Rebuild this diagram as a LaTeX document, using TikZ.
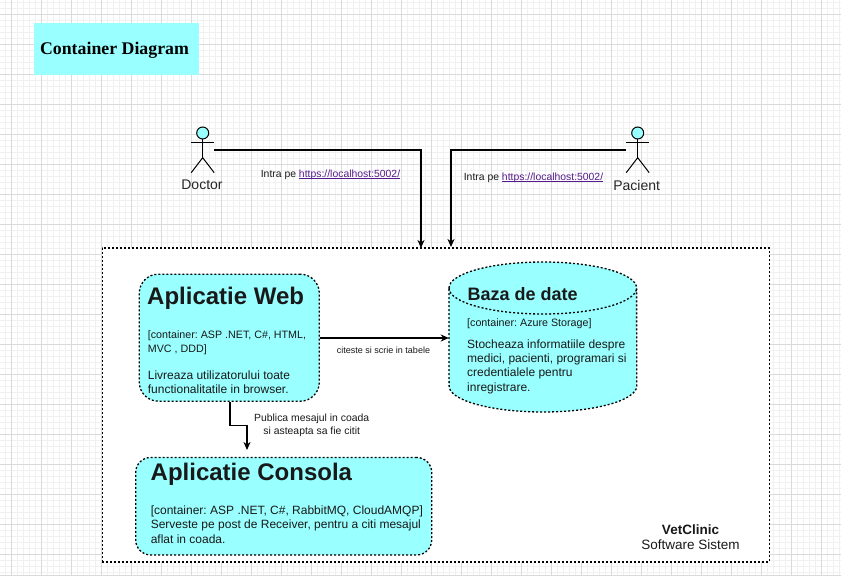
\documentclass[tikz,border=0pt]{standalone}
\usepackage{fontspec}
\setmainfont{Liberation Sans}
\newfontfamily\serifbold{Liberation Serif}
\usepackage{xcolor}
\usetikzlibrary{positioning,shapes,arrows.meta,calc}
\definecolor{contcyan}{HTML}{99FFFF}
\definecolor{gridmajor}{HTML}{DADADA}
\definecolor{gridminor}{HTML}{F1F1F1}
\definecolor{linkpurple}{HTML}{551A8B}
\newcommand{\fsize}[1]{\frenchspacing\fontsize{#1}{#1}\selectfont}
\newlength{\linklen}
\newcommand{\locallink}{\settowidth{\linklen}{https://localhost:5002/}\textcolor{linkpurple}{\rlap{https://localhost:5002/}\rule[-1.6pt]{\linklen}{0.7pt}}}
\tikzset{
  dots/.style={line width=1.3pt, dash pattern=on 2pt off 2pt},
  contbox/.style={draw=black, fill=contcyan, dots},
  conn/.style={draw=black, line width=1.3pt, -{Stealth[length=8pt,width=7pt,inset=2.5pt]}},
  figure/.style={draw=black, line width=1pt},
  txt/.style={anchor=west, inner sep=0pt, align=left, text=black!90},
  title/.style={txt, font=\bfseries\fsize{24}},
  lbl/.style={inner sep=0pt, align=center, font=\fsize{10.4}, text=black!90},
}
\begin{document}
\begin{tikzpicture}[x=1pt,y=-1pt]
  \useasboundingbox (0,0) rectangle (841,577);
  % Grid
  \fill[white] (0,0) rectangle (841,577);
  \foreach \x in {-0.33,5.67,...,841} \draw[gridminor,line width=0.8pt] (\x,0) -- (\x,575);
  \foreach \y in {2.33,8.33,...,575} \draw[gridminor,line width=0.8pt] (0,\y) -- (841,\y);
  \foreach \x in {11.67,41.67,...,841} \draw[gridmajor,line width=0.8pt] (\x,0) -- (\x,575);
  \foreach \y in {14.33,44.33,...,575} \draw[gridmajor,line width=0.8pt] (0,\y) -- (841,\y);
  \draw[gridmajor,line width=1pt] (0,575.5) -- (841,575.5);

  % Title
  \node[fill=contcyan, minimum width=165pt, minimum height=52pt, inner sep=0pt] (titlebox) at (116.5,49) {};
  \node[inner sep=0pt, font=\serifbold\bfseries\fsize{17.8}] (titletext) at (114.5,50) {Container Diagram};

  % System boundary
  \node[draw=black, fill=white, dots, minimum width=667pt, minimum height=314pt, inner sep=0pt] (sistem) at (435.7,405) {};
  \node[inner sep=0pt, align=center, font=\fsize{13.5}, text=black!90] (sistemlabel) at (690.5,537) {\textbf{VetClinic}\\[1pt]Software Sistem};

  % Actors
  \node[minimum width=23pt, minimum height=46pt, inner sep=0pt] (doctor) at (202.7,150) {};
  \node[minimum width=23pt, minimum height=46pt, inner sep=0pt] (pacient) at (637.7,150) {};
  \foreach \actor in {doctor,pacient} {
    \node[circle, figure, fill=contcyan, minimum size=12pt, inner sep=0pt] (\actor head) at ($(\actor)+(0,-17)$) {};
    \draw[figure] (\actor head.south) -- ($(\actor)+(0,7.7)$);
    \draw[figure] ($(\actor)+(-11.5,-7.3)$) -- ($(\actor)+(11.5,-7.3)$);
    \draw[figure] ($(\actor)+(-11.5,22.7)$) -- ($(\actor)+(0,7.7)$) -- ($(\actor)+(11.5,22.7)$);
  }
  \node[inner sep=0pt, font=\fsize{14}, text=black!85] (doctorlabel) at (202,185) {Doctor};
  \node[inner sep=0pt, font=\fsize{14}, text=black!85] (pacientlabel) at (636.7,185) {Pacient};

  % Containers
  \node[contbox, rounded corners=19pt, minimum width=180pt, minimum height=127pt, inner sep=0pt] (web) at (229.3,337.7) {};
  \node[contbox, rounded corners=15pt, minimum width=296pt, minimum height=97.5pt, inner sep=0pt] (consola) at (283.7,506.2) {};
  \node[minimum width=187.7pt, minimum height=150pt, inner sep=0pt] (baza) at (542.8,337) {};
  \draw[contbox] (449,288) arc[start angle=180, end angle=0, x radius=93.8pt, y radius=26pt]
    -- (636.7,386) arc[start angle=0, end angle=-180, x radius=93.8pt, y radius=26pt] -- cycle;
  \draw[contbox, fill=none] (449,288) arc[start angle=180, end angle=360, x radius=93.8pt, y radius=26pt];

  % Texts
  \node[title] (webtitle) at (147,298) {Aplicatie Web};
  \node[txt, font=\fsize{10.7}] (webtext) at (147.7,343) {[container: ASP .NET, C\#, HTML,\\[3.3pt]MVC , DDD]};
  \node[txt, font=\fsize{12}] (webdesc) at (147.7,382) {Livreaza utilizatorului toate\\[2pt]functionalitatile in browser.};
  \node[txt, font=\bfseries\fsize{18}] (bazatitle) at (467.5,294.5) {Baza de date};
  \node[txt, font=\fsize{10.7}] (bazatext) at (467,323.5) {[container: Azure Storage]};
  \node[txt, font=\fsize{12}] (bazadesc) at (467,366.5) {Stocheaza informatiile despre\\[2.3pt]medici, pacienti, programari si\\[2.3pt]credentialele pentru\\[2.3pt]inregistrare.};
  \node[title] (consolatitle) at (150.5,474) {Aplicatie Consola};
  \node[txt, font=\fsize{12}] (consoladesc) at (150.6,524.7) {[container: ASP .NET, C\#, RabbitMQ, CloudAMQP]\\[2.3pt]Serveste pe post de Receiver, pentru a citi mesajul\\[2.3pt]aflat in coada.};

  % Connectors
  \coordinate (doctorend) at (421,248);
  \coordinate (pacientend) at (451,247);
  \coordinate (consolaend) at (247,450);
  \draw[conn] (doctor.east) -- (doctor.east -| doctorend) -- (doctorend);
  \draw[conn] (pacient.west) -- (pacient.west -| pacientend) -- (pacientend);
  \draw[conn] (web.east |- 0,338) -- (baza.west |- 0,338);
  \draw[conn] (web.south -| 230,0) -- (230,425.5) -- (247,425.5) -- (consolaend);

  % Labels
  \node[lbl] (doctorlink) at (330.5,174.5) {Intra pe \locallink};
  \node[lbl] (pacientlink) at (533.5,177.5) {Intra pe \locallink};
  \node[lbl, font=\fsize{9}] (citestelabel) at (383.5,350.5) {citeste si scrie in tabele};
  \node[lbl] (publicalabel) at (311.7,425.5) {Publica mesajul in coada\\[2pt]si asteapta sa fie citit};
\end{tikzpicture}
\end{document}
